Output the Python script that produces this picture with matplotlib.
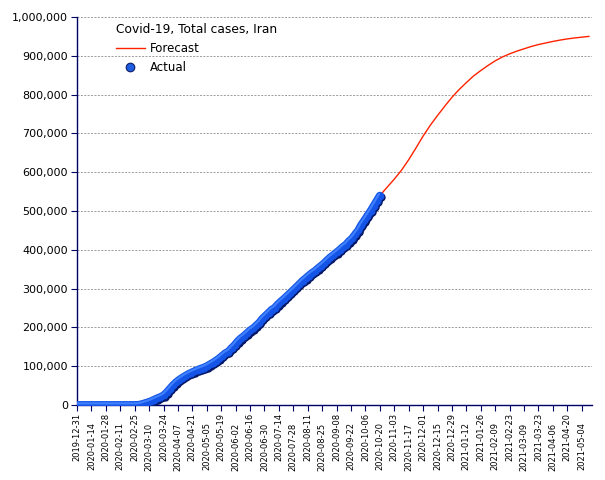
import pandas as pd
import numpy as np
from matplotlib import pyplot as plt
from matplotlib.transforms import offset_copy
from matplotlib.ticker import FuncFormatter

# actual total cases, every 3 days from 2019-12-31
actual = [0, 0, 0, 0, 0, 0, 0, 0, 0, 0, 0, 0, 0, 0, 0, 0, 0,
          5, 43, 139, 593, 2336, 4747, 7161, 10075, 13938, 17361, 20610,
          24811, 32332, 41495, 50468, 58226, 64586, 70029, 74877, 79494,
          83505, 87026, 90481, 93657, 96448, 99970, 104691, 109286, 114533,
          120198, 126949, 133521, 137724, 146668, 154445, 164270, 171789,
          177938, 184955, 192439, 197647, 204952, 212501, 222669, 230211,
          237878, 245688, 250458, 259652, 267061, 273788, 281413, 288839,
          296273, 304204, 312035, 320117, 326712, 333699, 340206, 345450,
          352558, 358905, 365606, 373570, 380746, 386658, 393425, 399940,
          407353, 413149, 422140, 429193, 439882, 449960, 464596, 475674,
          488236, 500075, 513219, 526490, 539670]

# forecast, weekly from 2020-10-20
forecast = [539670, 561000, 582000, 605000, 632000, 662000, 693000, 721000,
            746000, 770000, 793000, 813000, 831000, 848000, 862000, 875000,
            887000, 897000, 905000, 912000, 918000, 924000, 929000, 933000,
            937000, 940500, 943500, 946000, 948000, 950000]

actual_dates = pd.date_range('2019-12-31', periods=len(actual), freq='3D')
forecast_dates = pd.date_range('2020-10-20', periods=len(forecast), freq='7D')
tick_dates = pd.date_range('2019-12-31', '2021-05-04', freq='14D')

fig = plt.figure(figsize=(6.05, 4.8), dpi=100)
ax = fig.add_axes([77 / 605, 1 - 405 / 480, 515 / 605, 388 / 480])

navy = '#000066'
ax.plot(forecast_dates, forecast, color='#ff2200', lw=1.0, zorder=2, label='Forecast')

# shaded band of "ball" markers: dark shadow, blue body, light highlight
shadow = offset_copy(ax.transData, fig=fig, x=1.0, y=-1.3, units='dots')
hilite = offset_copy(ax.transData, fig=fig, x=-0.8, y=1.6, units='dots')
ax.plot(actual_dates, actual, '-o', lw=6.0, ms=6.0, color='#061868', mec='none',
        solid_capstyle='round', solid_joinstyle='round', transform=shadow, zorder=3)
ax.plot(actual_dates, actual, '-o', lw=5.6, ms=5.6, color='#1454e6', mec='none',
        solid_capstyle='round', solid_joinstyle='round', zorder=4)
ax.plot(actual_dates, actual, '-', lw=1.6, color='#3f80ff',
        solid_capstyle='round', solid_joinstyle='round', transform=hilite, zorder=5)
ball, = ax.plot([], [], 'o', ms=6.2, mfc='#1f5ee0', mec='#0a1c66', mew=0.8,
                label='Actual')

ax.set_xlim(pd.Timestamp('2019-12-31'), pd.Timestamp('2021-05-14'))
ax.set_ylim(0, 1000000)
ax.set_yticks(np.arange(0, 1000001, 100000))
ax.yaxis.set_major_formatter(FuncFormatter(lambda v, p: '{:,.0f}'.format(v)))

# date labels alternate between two rows
upper = tick_dates[::2]
lower = tick_dates[1::2]
ax.set_xticks(upper)
ax.set_xticklabels([d.strftime('%Y-%m-%d') for d in upper], rotation=90)
ax.set_xticks(lower, minor=True)
ax.set_xticklabels([], minor=True)
low_trans = offset_copy(ax.get_xaxis_transform(), fig=fig, y=-17.5, units='dots')
for d in lower:
    ax.text(d, 0, d.strftime('%Y-%m-%d'), transform=low_trans, rotation=90,
            ha='center', va='top', fontsize=6, clip_on=False)

ax.grid(axis='y', color='#9a9a9a', lw=0.7, linestyle=(0, (2, 1.5)))
ax.set_axisbelow(True)
for s in ['top', 'right']:
    ax.spines[s].set_visible(False)
for s in ['left', 'bottom']:
    ax.spines[s].set_color(navy)
    ax.spines[s].set_linewidth(1.0)
ax.tick_params(axis='y', colors=navy, labelcolor='black', labelsize=8,
               length=4.5, pad=2)
ax.tick_params(axis='x', which='both', colors=navy, labelcolor='black',
               labelsize=6, length=4, width=0.8, pad=1.5)

leg = ax.legend(handles=[ax.lines[0], ball], title='Covid-19, Total cases, Iran',
                loc='upper left', bbox_to_anchor=(0.075, 0.984), frameon=False,
                fontsize=8.5, title_fontsize=8.8, alignment='left',
                borderpad=0, borderaxespad=0, handlelength=2.5,
                handletextpad=0.4, labelspacing=0.5, numpoints=1)

fig.savefig('out.png', dpi=100)
